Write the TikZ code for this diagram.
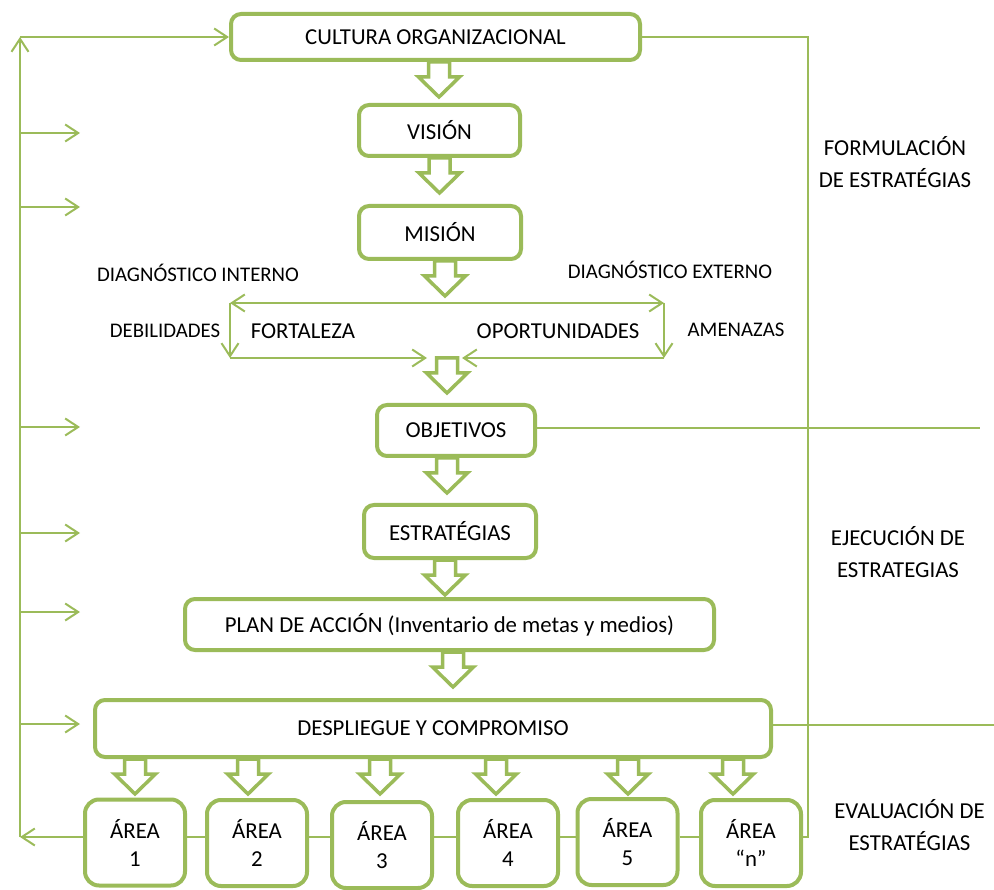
\documentclass[tikz,border=0pt]{standalone}
\usepackage{fontspec}
\setmainfont{Carlito}
\usetikzlibrary{arrows.meta}
\definecolor{grn}{HTML}{9BBB59}
\newcommand\mainsz{\fontsize{22.8}{28}\selectfont}
\newcommand\smallsz{\fontsize{20.8}{25}\selectfont}
\tikzset{
  box/.style={draw=grn, line width=4pt, rounded corners=10pt, fill=white,
    inner sep=0pt, font=\mainsz, align=center},
  areabox/.style={box, minimum width=100pt, minimum height=86pt, rounded corners=14pt},
  conn/.style={draw=grn, line width=2pt},
  tipped/.style={conn, -{Straight Barb[length=13pt,width=17pt]}},
  lbl/.style={inner sep=0pt, font=\smallsz},
  biglbl/.style={inner sep=0pt, font=\mainsz},
  sidelbl/.style={inner sep=0pt, align=center, font=\fontsize{22.8}{32}\selectfont},
  blockarrow/.pic={
    \draw[grn, line width=3.5pt, fill=white, line join=miter]
      (-10.5,0) -- (-10.5,15) -- (-20.5,15) -- (0,35) -- (20.5,15) -- (10.5,15) -- (10.5,0) -- cycle;
  }
}
\begin{document}
\begin{tikzpicture}[x=1pt, y=-1pt]
\useasboundingbox (0,0) rectangle (994,890);

% main chain of boxes
\node[box, minimum width=409pt, minimum height=46pt] (cultura) at (435.5,37) {CULTURA ORGANIZACIONAL};
\node[box, minimum width=161pt, minimum height=51pt] (vision) at (439.5,130.5) {VISIÓN};
\node[box, minimum width=162pt, minimum height=53pt] (mision) at (440,232.5) {MISIÓN};
\node[box, minimum width=158pt, minimum height=51pt] (objetivos) at (456,430.5) {OBJETIVOS};
\node[box, minimum width=172pt, minimum height=53pt] (estrategias) at (450,531.5) {ESTRATÉGIAS};
\node[box, minimum width=529pt, minimum height=51pt] (plan) at (449.5,624.5) {PLAN DE ACCIÓN (Inventario de metas y medios)};
\node[box, minimum width=676pt, minimum height=57pt] (despliegue) at (433,728.5) {DESPLIEGUE Y COMPROMISO};

% areas
\node[areabox] (area1) at (135,842.5) {ÁREA\\1};
\node[areabox] (area2) at (257,843) {ÁREA\\2};
\node[areabox] (area3) at (382,845) {ÁREA\\3};
\node[areabox] (area4) at (508,843) {ÁREA\\4};
\node[areabox] (area5) at (627.5,842) {ÁREA\\5};
\node[areabox] (arean) at (751,843) {ÁREA\\“n”};

% diagnosis labels
\node[lbl] (dint) at (198,273) {DIAGNÓSTICO INTERNO};
\node[lbl] (dext) at (670,270) {DIAGNÓSTICO EXTERNO};
\node[lbl] (debil) at (165,331) {DEBILIDADES};
\node[biglbl] (fort) at (303,331) {FORTALEZA};
\node[biglbl] (oport) at (558,331) {OPORTUNIDADES};
\node[lbl] (amen) at (736,330) {AMENAZAS};

% phase labels
\node[sidelbl] (formul) at (895,162) {FORMULACIÓN\\DE ESTRATÉGIAS};
\node[sidelbl] (ejec) at (898,552.5) {EJECUCIÓN DE\\ESTRATEGIAS};
\node[sidelbl] (evalu) at (909.5,825) {EVALUACIÓN DE\\ESTRATÉGIAS};

% block arrows between stages
\pic at ([xshift=3.5pt]cultura.south) {blockarrow};
\pic at (vision.south) {blockarrow};
\pic at ([xshift=5pt]mision.south) {blockarrow};
\coordinate (dcenter) at (447,358);
\pic at (dcenter) {blockarrow};
\pic at ([xshift=-9pt]objetivos.south) {blockarrow};
\pic at ([xshift=-5pt]estrategias.south) {blockarrow};
\pic at ([xshift=3.5pt]plan.south) {blockarrow};
\foreach \ax in {135,248,380,496,628,733}
  \pic at (\ax,759) {blockarrow};

% internal / external diagnosis loops
\coordinate (dl) at (230,303);
\coordinate (dr) at (664,303);
\coordinate (dlb) at (230,358);
\coordinate (drb) at (664,358);
\draw[conn, {Straight Barb[length=13pt,width=17pt]}-{Straight Barb[length=13pt,width=17pt]}] (dl) -- (dr);
\draw[tipped] (dl) -- (dlb);
\draw[tipped] (dr) -- (drb);
\draw[tipped] (dlb) -- ([xshift=-20pt]dcenter);
\draw[tipped] (drb) -- ([xshift=15pt]dcenter);

% links between areas
\coordinate (rowy) at (0,837);
\draw[conn] (area1.east |- rowy) -- (area2.west |- rowy);
\draw[conn] (area2.east |- rowy) -- (area3.west |- rowy);
\draw[conn] (area3.east |- rowy) -- (area4.west |- rowy);
\draw[conn] (area4.east |- rowy) -- (area5.west |- rowy);
\draw[conn] (area5.east |- rowy) -- (arean.west |- rowy);

% feedback loop on the left
\coordinate (lb) at (20,837);
\coordinate (lt) at (lb |- cultura.west);
\draw[tipped] (area1.west |- rowy) -- (lb);
\draw[tipped] (lb) -- (lt);
\draw[tipped] (lt) -- (cultura.west);
\foreach \yy in {133,207,427,533,612,724}
  \draw[tipped] (20,\yy) -- (80,\yy);

% phase separators on the right
\coordinate (rt) at (808,37);
\coordinate (rb) at (808,837);
\draw[conn, line width=1.5pt] (cultura.east) -- (rt) -- (rb) -- (arean.east |- rowy);
\coordinate (objend) at (980,428);
\draw[conn, line width=1.5pt] (objetivos.east |- objend) -- (objend);
\coordinate (despend) at (994,725);
\draw[conn, line width=1.5pt] (despliegue.east |- despend) -- (despend);
\end{tikzpicture}
\end{document}
